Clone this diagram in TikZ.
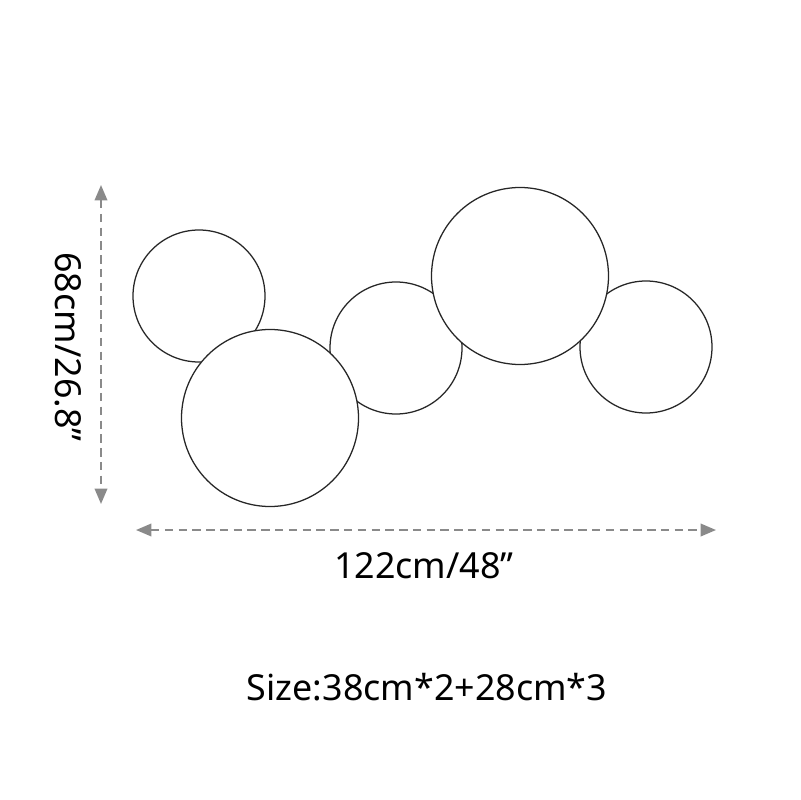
\documentclass[tikz,border=0pt]{standalone}
\usepackage{fontspec}
\setmainfont{Noto Sans}
\usepackage{tikz}
\usetikzlibrary{arrows.meta}

\definecolor{dimgrey}{HTML}{8A8A8A}
\tikzset{
	disc/.style={draw=black!85, line width=0.9pt, fill=white},
	dimline/.style={dimgrey, line width=1.3pt, dash pattern=on 6pt off 3.8pt,
		{Triangle[length=11pt,width=9pt]}-{Triangle[length=11pt,width=9pt]}},
	dimtext/.style={font=\fontsize{25.5}{30}\selectfont, inner sep=0pt}
}

\begin{document}
\begin{tikzpicture}[x=0.025cm, y=-0.025cm]
			\useasboundingbox (0, 0) rectangle (800, 800);
			\coordinate (vtop) at (101, 185);
			\coordinate (vbottom) at (101, 504);
			\coordinate (hleft) at (136, 530);
			\coordinate (hright) at (716, 530);
			
			% small discs behind
			\draw[disc] (199, 296) circle (66);
			\draw[disc] (396, 348) circle (66);
			\draw[disc] (646, 347) circle (66);
			% large discs in front
			\draw[disc] (270, 418) circle (88.5);
			\draw[disc] (520, 276) circle (88.5);
			
			\draw[dimline] (vtop) -- (vbottom);
			\draw[dimline] (hleft) -- (hright);
			\draw (68, 347) node[dimtext, rotate=-90] {68cm/26.8”};
			\draw (424, 566) node[dimtext] {122cm/48”};
			\draw (427, 687) node[dimtext] {Size:38cm*2+28cm*3};
\end{tikzpicture}
\end{document}
